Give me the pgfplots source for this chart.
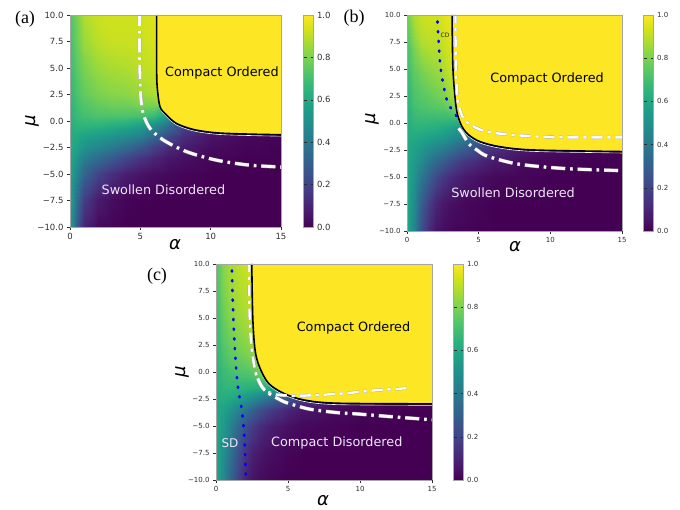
\documentclass[border=0pt]{standalone}
\usepackage{pgfplots}
\pgfplotsset{compat=1.18}
\usepackage{fontspec}
\setmainfont{DejaVu Sans}
\newfontfamily\serif{Liberation Serif}

\definecolor{vyellow}{RGB}{253,231,37}
\definecolor{lav}{RGB}{236,230,245}
\definecolor{tickgray}{RGB}{45,45,45}

\pgfplotsset{
  heat/.style={
    view={0}{90}, scale only axis, enlargelimits=false,
    xmin=0, xmax=15, ymin=-10, ymax=10,
    colormap name=viridis, point meta min=0, point meta max=1,
    axis on top, tick align=outside,
    xtick={0,5,10,15}, xticklabels={0,5,10,15},
    ytick={-10,-7.5,-5,-2.5,0,2.5,5,7.5,10},
    yticklabels={−10.0,−7.5,−5.0,−2.5,0.0,2.5,5.0,7.5,10.0},
    ztick=\empty,
    axis line style={gray!70, line width=0.5pt},
    tick style={tickgray, line width=0.4pt},
    major tick length=3pt,
    xtick pos=left, ytick pos=left,
    tick label style={text=tickgray},
    colorbar,
    colorbar style={
      at={(parent axis.south east)}, anchor=south west,
      scale only axis, width=10pt,
      ytick={0,0.2,0.4,0.6,0.8,1}, yticklabels={0.0,0.2,0.4,0.6,0.8,1.0},
      axis line style={gray!70, line width=0.5pt},
      tick style={tickgray, line width=0.4pt}, major tick length=3pt,
      tick label style={text=tickgray},
    },
  },
  wcont/.style={white, line width=2.8pt, smooth,
    dash pattern=on 14pt off 5pt on 2.5pt off 5pt,
    preaction={draw=gray!70, line width=3.6pt, dash pattern=on 14pt off 5pt on 2.5pt off 5pt}},
  wcont2/.style={white, line width=2.4pt, smooth,
    dash pattern=on 11pt off 5pt on 3pt off 5pt,
    preaction={draw=gray!70, line width=3.2pt, dash pattern=on 11pt off 5pt on 3pt off 5pt}},
  bdots/.style={blue, line width=2.6pt, line cap=round, smooth,
    dash pattern=on 1.2pt off 8.5pt},
  bline/.style={black, line width=1.6pt, smooth,
    preaction={draw=white, line width=0.6pt, transform canvas={yshift=-1.4pt}}},
}

\begin{document}
\begin{tikzpicture}
\path[use as bounding box] (0pt,0pt) rectangle (680pt,-510pt);

% ---------------- (a)
\begin{axis}[heat, at={(70pt,-227pt)}, anchor=south west,
  width=211pt, height=212pt,
  tick label style={font=\fontsize{8.5}{10}\selectfont},
  colorbar style={height=212pt, xshift=14pt,
    tick label style={font=\fontsize{8.5}{10}\selectfont}}]
\addplot3[surf, shader=interp, mesh/cols=13, mesh/rows=13] coordinates {
(0,-10,0.58) (0.5,-10,0.28) (1,-10,0.10) (2,-10,0.02) (3,-10,0.01) (4,-10,0) (5,-10,0) (6,-10,0) (7,-10,0) (8,-10,0) (10,-10,0) (12.5,-10,0) (15,-10,0)
(0,-7.5,0.60) (0.5,-7.5,0.35) (1,-7.5,0.18) (2,-7.5,0.07) (3,-7.5,0.03) (4,-7.5,0.01) (5,-7.5,0) (6,-7.5,0) (7,-7.5,0) (8,-7.5,0) (10,-7.5,0) (12.5,-7.5,0) (15,-7.5,0)
(0,-5,0.60) (0.5,-5,0.45) (1,-5,0.32) (2,-5,0.20) (3,-5,0.13) (4,-5,0.08) (5,-5,0.05) (6,-5,0.03) (7,-5,0.02) (8,-5,0.01) (10,-5,0) (12.5,-5,0) (15,-5,0)
(0,-3.5,0.61) (0.5,-3.5,0.52) (1,-3.5,0.43) (2,-3.5,0.35) (3,-3.5,0.28) (4,-3.5,0.21) (5,-3.5,0.15) (6,-3.5,0.10) (7,-3.5,0.06) (8,-3.5,0.04) (10,-3.5,0.01) (12.5,-3.5,0) (15,-3.5,0)
(0,-2.5,0.62) (0.5,-2.5,0.57) (1,-2.5,0.51) (2,-2.5,0.46) (3,-2.5,0.41) (4,-2.5,0.35) (5,-2.5,0.28) (6,-2.5,0.19) (7,-2.5,0.12) (8,-2.5,0.08) (10,-2.5,0.03) (12.5,-2.5,0.01) (15,-2.5,0)
(0,-1.5,0.62) (0.5,-1.5,0.60) (1,-1.5,0.57) (2,-1.5,0.54) (3,-1.5,0.51) (4,-1.5,0.47) (5,-1.5,0.42) (6,-1.5,0.32) (7,-1.5,0.21) (8,-1.5,0.12) (10,-1.5,0.05) (12.5,-1.5,0.02) (15,-1.5,0.01)
(0,-0.5,0.63) (0.5,-0.5,0.65) (1,-0.5,0.65) (2,-0.5,0.64) (3,-0.5,0.62) (4,-0.5,0.60) (5,-0.5,0.56) (6,-0.5,0.48) (7,-0.5,0.35) (8,-0.5,0.20) (10,-0.5,0.05) (12.5,-0.5,0.02) (15,-0.5,0.01)
(0,0.5,0.64) (0.5,0.5,0.68) (1,0.5,0.70) (2,0.5,0.72) (3,0.5,0.72) (4,0.5,0.72) (5,0.5,0.71) (6,0.5,0.68) (7,0.5,0.55) (8,0.5,0.30) (10,0.5,0.10) (12.5,0.5,0.05) (15,0.5,0.02)
(0,1.5,0.65) (0.5,1.5,0.70) (1,1.5,0.73) (2,1.5,0.76) (3,1.5,0.78) (4,1.5,0.78) (5,1.5,0.80) (6,1.5,0.80) (7,1.5,0.85) (8,1.5,0.9) (10,1.5,0.9) (12.5,1.5,0.9) (15,1.5,0.9)
(0,2.5,0.66) (0.5,2.5,0.72) (1,2.5,0.76) (2,2.5,0.80) (3,2.5,0.82) (4,2.5,0.83) (5,2.5,0.85) (6,2.5,0.88) (7,2.5,0.9) (8,2.5,0.9) (10,2.5,0.9) (12.5,2.5,0.9) (15,2.5,0.9)
(0,5,0.68) (0.5,5,0.75) (1,5,0.80) (2,5,0.85) (3,5,0.87) (4,5,0.88) (5,5,0.90) (6,5,0.92) (7,5,0.95) (8,5,1) (10,5,1) (12.5,5,1) (15,5,1)
(0,7.5,0.70) (0.5,7.5,0.78) (1,7.5,0.85) (2,7.5,0.90) (3,7.5,0.92) (4,7.5,0.92) (5,7.5,0.92) (6,7.5,0.94) (7,7.5,1) (8,7.5,1) (10,7.5,1) (12.5,7.5,1) (15,7.5,1)
(0,10,0.72) (0.5,10,0.80) (1,10,0.88) (2,10,0.92) (3,10,0.93) (4,10,0.93) (5,10,0.93) (6,10,0.95) (7,10,1) (8,10,1) (10,10,1) (12.5,10,1) (15,10,1)
};
\addplot[draw=none, fill=vyellow, smooth] coordinates {
(6.16,11) (6.16,10) (6.16,5) (6.2,3.2) (6.4,1.34) (6.87,0.55) (7.58,-0.24) (8.77,-0.8)
(10.43,-1.12) (12.8,-1.24) (15,-1.3) (16,-1.3) (16,11)} -- cycle;
\addplot[bline] coordinates {
(6.16,10.5) (6.16,5) (6.2,3.2) (6.4,1.34) (6.87,0.55) (7.58,-0.24) (8.77,-0.8)
(10.43,-1.12) (12.8,-1.24) (15.2,-1.3)};
\addplot[wcont] coordinates {
(4.95,10.3) (4.95,6) (5.0,3) (5.08,1.6) (5.25,0.5) (5.69,-0.7) (6.64,-1.8)
(8.3,-2.9) (10.43,-3.7) (12.8,-4.17) (15.2,-4.35)};
\node[font=\fontsize{12.8}{14}\selectfont, text=black] at (axis cs:10.8,4.5,1) {Compact Ordered};
\node[font=\fontsize{12.8}{14}\selectfont, text=lav] at (axis cs:6.64,-6.5,1) {Swollen Disordered};
\end{axis}

% ---------------- (b)
\begin{axis}[heat, at={(407pt,-231pt)}, anchor=south west,
  width=215pt, height=216pt,
  tick label style={font=\fontsize{7}{8}\selectfont},
  colorbar style={height=216pt, xshift=13pt,
    tick label style={font=\fontsize{7}{8}\selectfont}}]
\addplot3[surf, shader=interp, mesh/cols=15, mesh/rows=13] coordinates {
(0,-10,0.60) (0.5,-10,0.45) (1,-10,0.25) (1.5,-10,0.12) (2,-10,0.05) (2.5,-10,0.03) (3,-10,0.02) (3.5,-10,0.01) (4,-10,0.01) (5,-10,0) (6,-10,0) (8,-10,0) (10,-10,0) (12.5,-10,0) (15,-10,0)
(0,-7.5,0.60) (0.5,-7.5,0.48) (1,-7.5,0.30) (1.5,-7.5,0.18) (2,-7.5,0.10) (2.5,-7.5,0.06) (3,-7.5,0.04) (3.5,-7.5,0.03) (4,-7.5,0.02) (5,-7.5,0.01) (6,-7.5,0) (8,-7.5,0) (10,-7.5,0) (12.5,-7.5,0) (15,-7.5,0)
(0,-5,0.60) (0.5,-5,0.52) (1,-5,0.40) (1.5,-5,0.30) (2,-5,0.22) (2.5,-5,0.16) (3,-5,0.12) (3.5,-5,0.09) (4,-5,0.07) (5,-5,0.04) (6,-5,0.02) (8,-5,0.01) (10,-5,0) (12.5,-5,0) (15,-5,0)
(0,-3.5,0.60) (0.5,-3.5,0.55) (1,-3.5,0.48) (1.5,-3.5,0.40) (2,-3.5,0.34) (2.5,-3.5,0.29) (3,-3.5,0.24) (3.5,-3.5,0.20) (4,-3.5,0.16) (5,-3.5,0.11) (6,-3.5,0.07) (8,-3.5,0.03) (10,-3.5,0.01) (12.5,-3.5,0) (15,-3.5,0)
(0,-2.5,0.60) (0.5,-2.5,0.57) (1,-2.5,0.53) (1.5,-2.5,0.48) (2,-2.5,0.44) (2.5,-2.5,0.40) (3,-2.5,0.36) (3.5,-2.5,0.32) (4,-2.5,0.28) (5,-2.5,0.20) (6,-2.5,0.13) (8,-2.5,0.06) (10,-2.5,0.03) (12.5,-2.5,0.01) (15,-2.5,0)
(0,-1.5,0.61) (0.5,-1.5,0.60) (1,-1.5,0.58) (1.5,-1.5,0.56) (2,-1.5,0.54) (2.5,-1.5,0.52) (3,-1.5,0.48) (3.5,-1.5,0.44) (4,-1.5,0.40) (5,-1.5,0.30) (6,-1.5,0.18) (8,-1.5,0.06) (10,-1.5,0.03) (12.5,-1.5,0.01) (15,-1.5,0)
(0,-0.5,0.62) (0.5,-0.5,0.64) (1,-0.5,0.64) (1.5,-0.5,0.63) (2,-0.5,0.62) (2.5,-0.5,0.60) (3,-0.5,0.58) (3.5,-0.5,0.55) (4,-0.5,0.50) (5,-0.5,0.38) (6,-0.5,0.20) (8,-0.5,0.06) (10,-0.5,0.03) (12.5,-0.5,0.01) (15,-0.5,0)
(0,0.5,0.63) (0.5,0.5,0.67) (1,0.5,0.68) (1.5,0.5,0.68) (2,0.5,0.68) (2.5,0.5,0.68) (3,0.5,0.68) (3.5,0.5,0.70) (4,0.5,0.72) (5,0.5,0.60) (6,0.5,0.30) (8,0.5,0.10) (10,0.5,0.05) (12.5,0.5,0.02) (15,0.5,0.01)
(0,1.5,0.64) (0.5,1.5,0.70) (1,1.5,0.72) (1.5,1.5,0.73) (2,1.5,0.74) (2.5,1.5,0.75) (3,1.5,0.78) (3.5,1.5,0.85) (4,1.5,0.9) (5,1.5,0.9) (6,1.5,0.9) (8,1.5,0.9) (10,1.5,0.9) (12.5,1.5,0.9) (15,1.5,0.9)
(0,2.5,0.65) (0.5,2.5,0.72) (1,2.5,0.74) (1.5,2.5,0.76) (2,2.5,0.78) (2.5,2.5,0.80) (3,2.5,0.85) (3.5,2.5,0.90) (4,2.5,0.95) (5,2.5,1) (6,2.5,1) (8,2.5,1) (10,2.5,1) (12.5,2.5,1) (15,2.5,1)
(0,5,0.68) (0.5,5,0.76) (1,5,0.80) (1.5,5,0.83) (2,5,0.85) (2.5,5,0.88) (3,5,0.92) (3.5,5,0.95) (4,5,1) (5,5,1) (6,5,1) (8,5,1) (10,5,1) (12.5,5,1) (15,5,1)
(0,7.5,0.72) (0.5,7.5,0.82) (1,7.5,0.88) (1.5,7.5,0.90) (2,7.5,0.90) (2.5,7.5,0.92) (3,7.5,0.95) (3.5,7.5,1) (4,7.5,1) (5,7.5,1) (6,7.5,1) (8,7.5,1) (10,7.5,1) (12.5,7.5,1) (15,7.5,1)
(0,10,0.78) (0.5,10,0.88) (1,10,0.92) (1.5,10,0.93) (2,10,0.93) (2.5,10,0.95) (3,10,0.97) (3.5,10,1) (4,10,1) (5,10,1) (6,10,1) (8,10,1) (10,10,1) (12.5,10,1) (15,10,1)
};
\addplot[draw=none, fill=vyellow, smooth] coordinates {
(3.14,11) (3.14,10) (3.2,5.2) (3.37,2.1) (3.53,0.74) (3.84,-0.34) (4.3,-1.1) (5.1,-1.73)
(6.5,-2.2) (8.84,-2.5) (15,-2.65) (16,-2.65) (16,11)} -- cycle;
\addplot[bline] coordinates {
(3.14,10.5) (3.2,5.2) (3.37,2.1) (3.53,0.74) (3.84,-0.34) (4.3,-1.1) (5.1,-1.73)
(6.5,-2.2) (8.84,-2.5) (15.2,-2.65)};
\addplot[wcont2] coordinates {
(3.38,10.3) (3.4,6) (3.5,2.5) (3.7,1.2) (4.0,0.3) (4.6,-0.3) (5.6,-0.82)
(7.4,-1.1) (9.3,-1.27) (11.6,-1.33) (15.2,-1.33)};
\addplot[wcont] coordinates {
(3.6,-0.5) (3.84,-0.9) (4.3,-1.9) (4.88,-2.5) (5.58,-3.06) (7.44,-3.73)
(9.3,-4.04) (11.6,-4.26) (15.2,-4.42)};
\addplot[bdots] coordinates {
(2.09,10.3) (2.2,7.7) (2.33,5.2) (2.56,3.4) (2.79,2.1) (3.14,1.2) (3.49,0.59)};
\node[font=\fontsize{6}{7}\selectfont, text=black!85] at (axis cs:2.65,8.1,1) {CD};
\node[font=\fontsize{12.8}{14}\selectfont, text=black] at (axis cs:9.77,4.04,1) {Compact Ordered};
\node[font=\fontsize{12.8}{14}\selectfont, text=lav] at (axis cs:7.4,-6.5,1) {Swollen Disordered};
\end{axis}

% ---------------- (c)
\begin{axis}[heat, at={(216pt,-480pt)}, anchor=south west,
  width=216pt, height=216pt,
  tick label style={font=\fontsize{7}{8}\selectfont},
  colorbar style={height=216pt, xshift=13pt,
    tick label style={font=\fontsize{7}{8}\selectfont}}]
\addplot3[surf, shader=interp, mesh/cols=15, mesh/rows=13] coordinates {
(0,-10,0.60) (0.5,-10,0.48) (1,-10,0.33) (1.5,-10,0.20) (2,-10,0.10) (2.5,-10,0.05) (3,-10,0.03) (3.5,-10,0.02) (4,-10,0.01) (5,-10,0) (6,-10,0) (8,-10,0) (10,-10,0) (12.5,-10,0) (15,-10,0)
(0,-7.5,0.60) (0.5,-7.5,0.50) (1,-7.5,0.38) (1.5,-7.5,0.25) (2,-7.5,0.15) (2.5,-7.5,0.09) (3,-7.5,0.06) (3.5,-7.5,0.04) (4,-7.5,0.03) (5,-7.5,0.01) (6,-7.5,0) (8,-7.5,0) (10,-7.5,0) (12.5,-7.5,0) (15,-7.5,0)
(0,-5,0.60) (0.5,-5,0.55) (1,-5,0.45) (1.5,-5,0.34) (2,-5,0.25) (2.5,-5,0.18) (3,-5,0.13) (3.5,-5,0.10) (4,-5,0.07) (5,-5,0.04) (6,-5,0.02) (8,-5,0.01) (10,-5,0) (12.5,-5,0) (15,-5,0)
(0,-3.5,0.60) (0.5,-3.5,0.58) (1,-3.5,0.52) (1.5,-3.5,0.45) (2,-3.5,0.38) (2.5,-3.5,0.31) (3,-3.5,0.25) (3.5,-3.5,0.20) (4,-3.5,0.16) (5,-3.5,0.10) (6,-3.5,0.06) (8,-3.5,0.03) (10,-3.5,0.01) (12.5,-3.5,0) (15,-3.5,0)
(0,-2.5,0.61) (0.5,-2.5,0.62) (1,-2.5,0.60) (1.5,-2.5,0.57) (2,-2.5,0.53) (2.5,-2.5,0.48) (3,-2.5,0.43) (3.5,-2.5,0.38) (4,-2.5,0.33) (5,-2.5,0.25) (6,-2.5,0.15) (8,-2.5,0.06) (10,-2.5,0.02) (12.5,-2.5,0.01) (15,-2.5,0)
(0,-1.5,0.62) (0.5,-1.5,0.65) (1,-1.5,0.66) (1.5,-1.5,0.65) (2,-1.5,0.64) (2.5,-1.5,0.63) (3,-1.5,0.62) (3.5,-1.5,0.62) (4,-1.5,0.60) (5,-1.5,0.50) (6,-1.5,0.30) (8,-1.5,0.10) (10,-1.5,0.04) (12.5,-1.5,0.02) (15,-1.5,0.01)
(0,-0.5,0.63) (0.5,-0.5,0.67) (1,-0.5,0.69) (1.5,-0.5,0.70) (2,-0.5,0.70) (2.5,-0.5,0.71) (3,-0.5,0.74) (3.5,-0.5,0.80) (4,-0.5,0.85) (5,-0.5,0.9) (6,-0.5,0.9) (8,-0.5,0.9) (10,-0.5,0.9) (12.5,-0.5,0.9) (15,-0.5,0.9)
(0,0.5,0.64) (0.5,0.5,0.69) (1,0.5,0.72) (1.5,0.5,0.74) (2,0.5,0.75) (2.5,0.5,0.77) (3,0.5,0.82) (3.5,0.5,0.88) (4,0.5,0.92) (5,0.5,1) (6,0.5,1) (8,0.5,1) (10,0.5,1) (12.5,0.5,1) (15,0.5,1)
(0,1.5,0.65) (0.5,1.5,0.71) (1,1.5,0.75) (1.5,1.5,0.77) (2,1.5,0.79) (2.5,1.5,0.82) (3,1.5,0.87) (3.5,1.5,0.92) (4,1.5,1) (5,1.5,1) (6,1.5,1) (8,1.5,1) (10,1.5,1) (12.5,1.5,1) (15,1.5,1)
(0,2.5,0.66) (0.5,2.5,0.73) (1,2.5,0.77) (1.5,2.5,0.80) (2,2.5,0.82) (2.5,2.5,0.85) (3,2.5,0.90) (3.5,2.5,1) (4,2.5,1) (5,2.5,1) (6,2.5,1) (8,2.5,1) (10,2.5,1) (12.5,2.5,1) (15,2.5,1)
(0,5,0.68) (0.5,5,0.77) (1,5,0.82) (1.5,5,0.85) (2,5,0.87) (2.5,5,0.90) (3,5,0.95) (3.5,5,1) (4,5,1) (5,5,1) (6,5,1) (8,5,1) (10,5,1) (12.5,5,1) (15,5,1)
(0,7.5,0.70) (0.5,7.5,0.80) (1,7.5,0.85) (1.5,7.5,0.88) (2,7.5,0.90) (2.5,7.5,0.93) (3,7.5,1) (3.5,7.5,1) (4,7.5,1) (5,7.5,1) (6,7.5,1) (8,7.5,1) (10,7.5,1) (12.5,7.5,1) (15,7.5,1)
(0,10,0.72) (0.5,10,0.82) (1,10,0.87) (1.5,10,0.90) (2,10,0.92) (2.5,10,0.95) (3,10,1) (3.5,10,1) (4,10,1) (5,10,1) (6,10,1) (8,10,1) (10,10,1) (12.5,10,1) (15,10,1)
};
\addplot[draw=none, fill=vyellow, smooth] coordinates {
(2.48,11) (2.48,10) (2.55,5.15) (2.71,2.06) (3.01,0.5) (3.64,-1.04) (4.68,-1.96)
(6.07,-2.58) (8.39,-2.89) (15,-2.95) (16,-2.95) (16,11)} -- cycle;
\addplot[bline] coordinates {
(2.48,10.5) (2.55,5.15) (2.71,2.06) (3.01,0.5) (3.64,-1.04) (4.68,-1.96)
(6.07,-2.58) (8.39,-2.89) (15.2,-2.95)};
\addplot[wcont2] coordinates {
(2.3,10.3) (2.32,6) (2.42,3) (2.6,1) (2.85,-0.5) (3.3,-1.5) (4.0,-2.05)
(5.5,-2.2) (7.5,-2.1) (9.3,-1.93) (11.2,-1.68) (13.3,-1.5)};
\addplot[wcont] coordinates {
(2.9,-0.6) (3.2,-1.4) (3.64,-1.96) (4.68,-2.73) (5.38,-3.04) (6.54,-3.45)
(8.39,-3.76) (9.78,-3.88) (12.1,-4.13) (15.2,-4.45)};
\addplot[bdots] coordinates {
(1.09,10.3) (1.16,6.7) (1.25,3.6) (1.39,0.5) (1.55,-1.65) (1.79,-3.5) (1.97,-6) (2.09,-10.3)};
\node[font=\fontsize{12.8}{14}\selectfont, text=black] at (axis cs:9.55,4.06,1) {Compact Ordered};
\node[font=\fontsize{12.8}{14}\selectfont, text=lav] at (axis cs:8.39,-6.6,1) {Compact Disordered};
\node[font=\fontsize{12}{14}\selectfont, text=lav] at (axis cs:0.97,-6.54,1) {SD};
\end{axis}

% panel letters and axis labels
\node[font=\serif\fontsize{18}{20}\selectfont] at (25pt,-19pt) {(a)};
\node[font=\serif\fontsize{18}{20}\selectfont] at (354pt,-18pt) {(b)};
\node[font=\serif\fontsize{18}{20}\selectfont] at (157pt,-276pt) {(c)};
\node[font=\itshape\fontsize{18}{20}\selectfont] at (175pt,-245pt) {α};
\node[font=\itshape\fontsize{18}{20}\selectfont] at (515pt,-247pt) {α};
\node[font=\itshape\fontsize{18}{20}\selectfont] at (323pt,-501pt) {α};
\node[font=\itshape\fontsize{18}{20}\selectfont, rotate=90] at (32pt,-121pt) {μ};
\node[font=\itshape\fontsize{18}{20}\selectfont, rotate=90] at (372pt,-119pt) {μ};
\node[font=\itshape\fontsize{18}{20}\selectfont, rotate=90] at (182pt,-372pt) {μ};
\end{tikzpicture}
\end{document}
